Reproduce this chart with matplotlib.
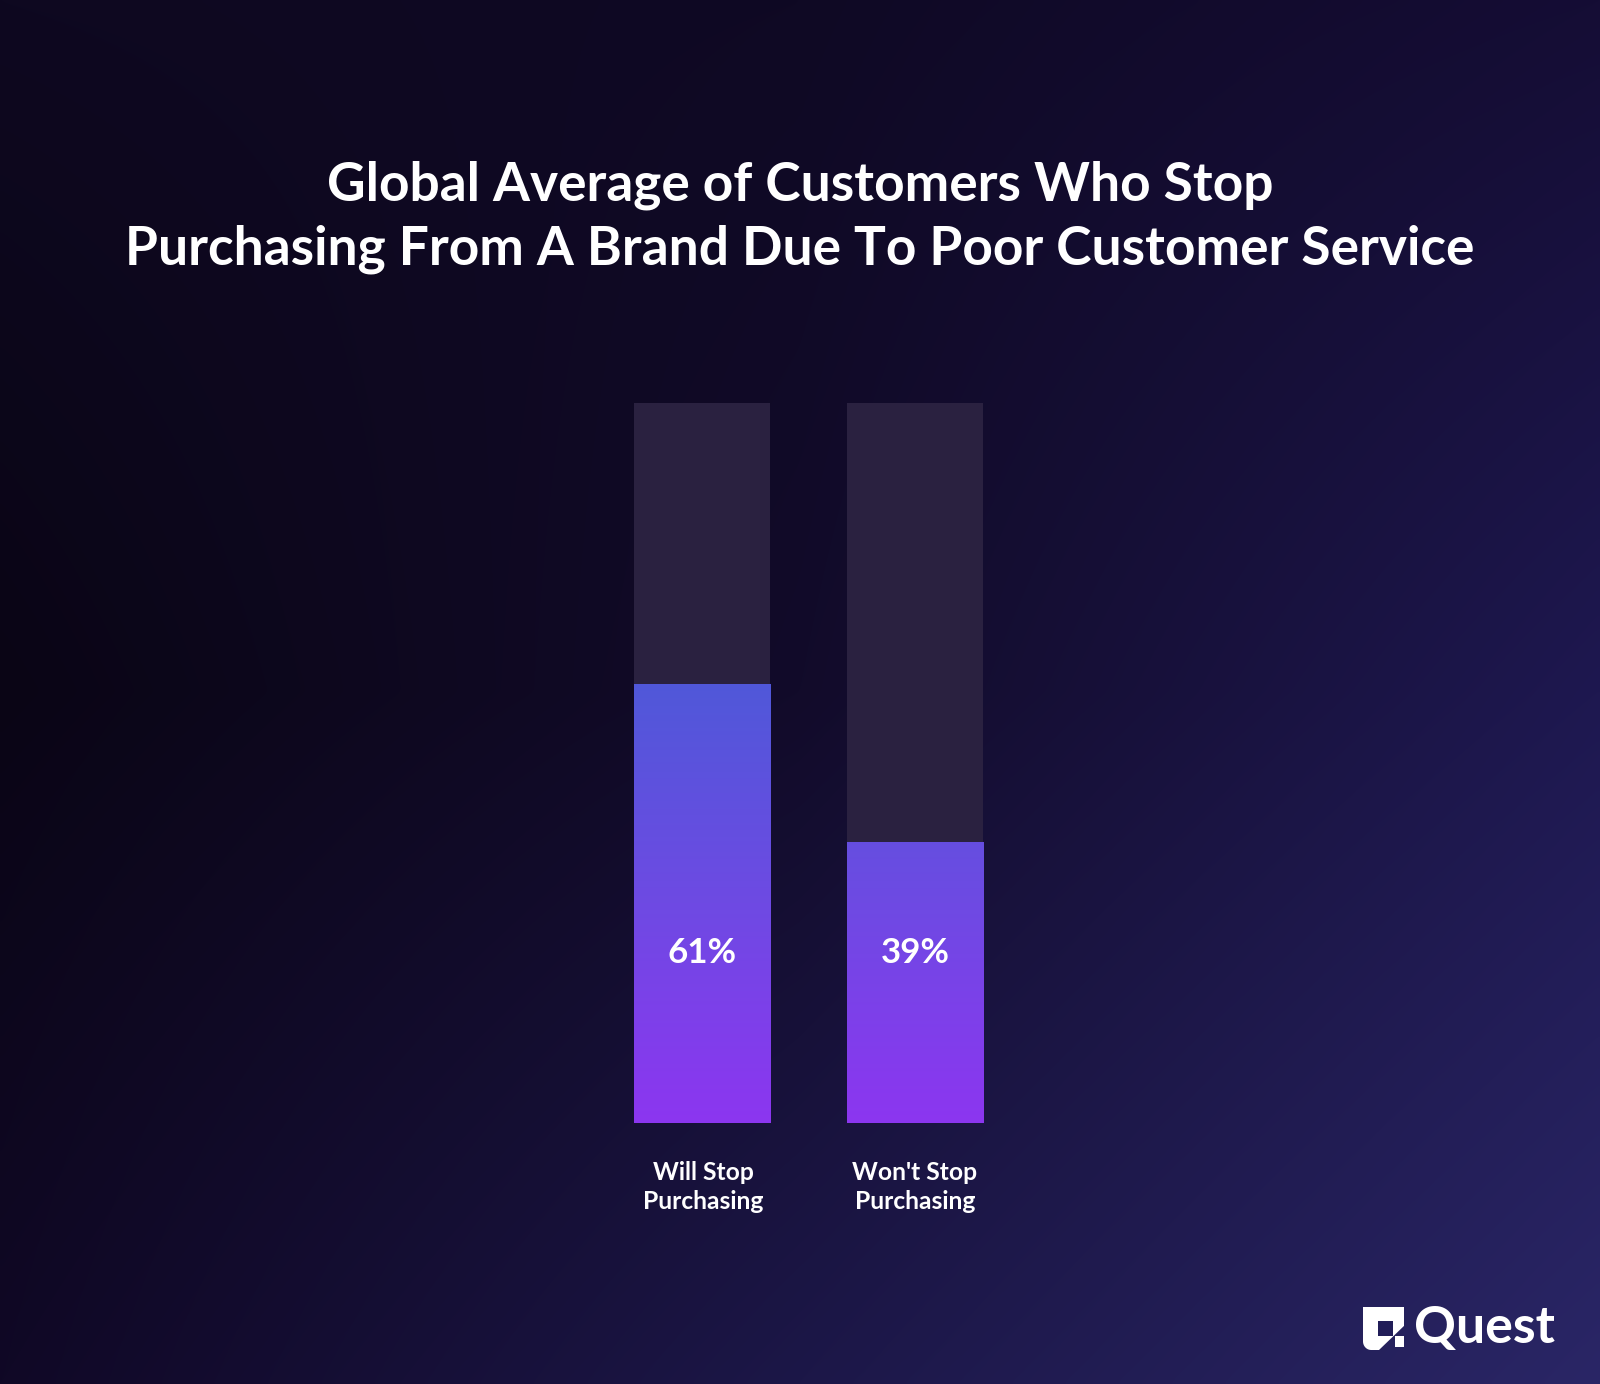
import numpy as np
import matplotlib
matplotlib.use('Agg')
import matplotlib.pyplot as plt
from matplotlib.colors import LinearSegmentedColormap, to_rgb
from matplotlib.patches import Polygon, Rectangle

# ---------------- data ----------------
title_lines = ["Global Average of Customers Who Stop",
               "Purchasing From A Brand Due To Poor Customer Service"]
categories = ["Will Stop\nPurchasing", "Won't Stop\nPurchasing"]
values = [61, 39]
value_labels = ["61%", "39%"]
track_max = 100
brand = "Quest"

# ---------------- figure ----------------
W, H = 1600, 1384
DPI = 100
fig = plt.figure(figsize=(W / DPI, H / DPI), dpi=DPI)
FONT = ['Lato', 'DejaVu Sans']
plt.rcParams['font.family'] = FONT
renderer = fig.canvas.get_renderer()


def fx(x):
    return x / W


def fy(y):
    return 1 - y / H


def fit_text(t, target_w):
    bb = t.get_window_extent(renderer=renderer)
    t.set_fontsize(t.get_fontsize() * target_w / bb.width)


# ---------------- background gradient ----------------
grid_hex = [["#0e0820", "#0f0924", "#150d35"],
            ["#0a0515", "#120b2a", "#1e1850"],
            ["#100826", "#1c1748", "#2a2666"]]
grid = np.array([[to_rgb(c) for c in row] for row in grid_hex])


def bilerp(g, ny, nx):
    gy, gx = g.shape[:2]
    ys = np.linspace(0, gy - 1, ny)
    xs = np.linspace(0, gx - 1, nx)
    tmp = np.zeros((gy, nx, 3))
    for i in range(gy):
        for c in range(3):
            tmp[i, :, c] = np.interp(xs, np.arange(gx), g[i, :, c])
    out = np.zeros((ny, nx, 3))
    for j in range(nx):
        for c in range(3):
            out[:, j, c] = np.interp(ys, np.arange(gy), tmp[:, j, c])
    return out


bg = fig.add_axes([0, 0, 1, 1])
bg.set_axis_off()
bg.imshow(bilerp(grid, 300, 340), extent=(0, 1, 0, 1), aspect='auto',
          origin='upper', interpolation='bicubic')
bg.set_xlim(0, 1)
bg.set_ylim(0, 1)

# ---------------- bars ----------------
AX_TOP, AX_BOT = 403, 1123
ax = fig.add_axes([fx(634), fy(AX_BOT), (983 - 634) / W, (AX_BOT - AX_TOP) / H])
ax.patch.set_alpha(0)
x = np.arange(len(values))
bw = 0.64
ax.bar(x, [track_max] * len(values), width=bw, color='#2a2140', zorder=1)
bars = ax.bar(x, values, width=bw, color='none', edgecolor='none', zorder=2)

cmap = LinearSegmentedColormap.from_list('g', ['#8C36F0', '#6E4AE3', '#5058D9'])
grad = np.linspace(0, 1, 256).reshape(-1, 1)
for b in bars:
    im = ax.imshow(grad, extent=(-0.5, len(values) - 0.5, 0, max(values)),
                   aspect='auto', origin='lower', cmap=cmap, zorder=2)
    im.set_clip_path(b)

ax.set_xlim(-bw / 2, len(values) - 1 + bw / 2)
ax.set_ylim(0, track_max)
ax.set_axis_off()

for i, lab in enumerate(value_labels):
    t = ax.text(i, 23.6, lab, ha='center', va='center', color='white',
                fontsize=24, fontweight='bold', zorder=5)
    if i == 0:
        fit_text(t, 69)
        vfs = t.get_fontsize()
    else:
        t.set_fontsize(vfs)

# category labels
cat_centers = [703, 915]
for i, cat in enumerate(categories):
    lines = cat.split("\n")
    for k, ln in enumerate(lines):
        t = fig.text(fx(cat_centers[i]), fy(1180 + 29 * k), ln, ha='center',
                     va='baseline', color='white', fontsize=17, fontweight='bold')
        if i == 0 and k == 1:
            fit_text(t, 121)
            cfs = t.get_fontsize()
for t in fig.texts:
    t.set_fontsize(cfs)

# ---------------- title ----------------
t1 = fig.text(0.5, fy(201), title_lines[0], ha='center', va='baseline',
              color='white', fontsize=32, fontweight='bold')
t2 = fig.text(0.5, fy(264), title_lines[1], ha='center', va='baseline',
              color='white', fontsize=32, fontweight='bold')
fit_text(t2, 1353)
t1.set_fontsize(t2.get_fontsize())

# ---------------- logo ----------------
tq = fig.text(fx(1414), fy(1343), brand, ha='left', va='baseline',
              color='white', fontsize=28, fontweight='bold')
fit_text(tq, 141)

iax = fig.add_axes([fx(1363), fy(1350), 41 / W, 43 / H])
iax.set_xlim(0, 1)
iax.set_ylim(1, 0)
iax.set_axis_off()
iax.patch.set_alpha(0)
arc_t = np.linspace(np.pi / 2, 0, 12)
arc = [(0.2 - 0.2 * np.cos(a), 0.8 + 0.2 * np.sin(a)) for a in arc_t]
main_pts = [(0, 0), (1, 0), (1, 0.44), (0.39, 1.0)] + arc
iax.add_patch(Polygon(main_pts, closed=True, facecolor='white', edgecolor='none'))
iax.add_patch(Rectangle((0.37, 0.33), 0.37, 0.34, facecolor='#211d58', edgecolor='none'))
iax.add_patch(Rectangle((0.77, 0.68), 0.23, 0.24, facecolor='white', edgecolor='none'))

fig.savefig('out.png', dpi=DPI)
